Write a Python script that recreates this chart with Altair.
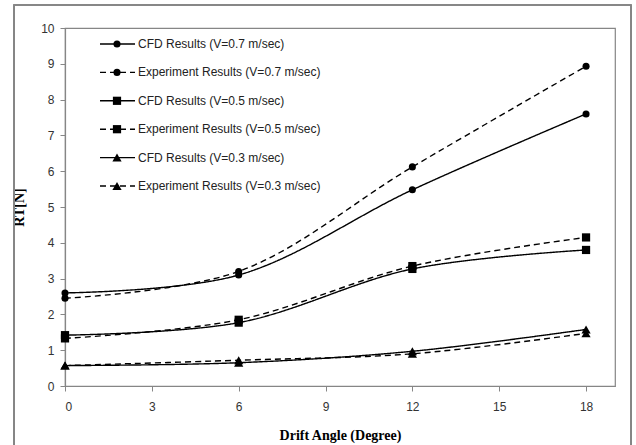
import altair as alt
import pandas as pd

angles = [0, 6, 12, 18]
cfd_07 = [2.60, 3.10, 5.48, 7.60]
exp_07 = [2.45, 3.20, 6.12, 8.93]
cfd_05 = [1.42, 1.77, 3.27, 3.80]
exp_05 = [1.33, 1.85, 3.35, 4.15]
cfd_03 = [0.57, 0.65, 0.97, 1.58]
exp_03 = [0.57, 0.72, 0.90, 1.47]
y_ticks = [0, 1, 2, 3, 4, 5, 6, 7, 8, 9, 10]
x_ticks = [0, 3, 6, 9, 12, 15, 18]

series_labels = [
    "CFD Results  (V=0.7 m/sec)",
    "Experiment Results (V=0.7 m/sec)",
    "CFD Results (V=0.5 m/sec)",
    "Experiment Results  (V=0.5 m/sec)",
    "CFD Results (V=0.3 m/sec)",
    "Experiment Results (V=0.3 m/sec)",
]
series_values = [cfd_07, exp_07, cfd_05, exp_05, cfd_03, exp_03]
series_kind = ["CFD", "Exp", "CFD", "Exp", "CFD", "Exp"]
series_shape = ["circle", "circle", "square", "square", "triangle-up", "triangle-up"]

rows = []
for i, (lab, vals, kind, shp) in enumerate(zip(series_labels, series_values, series_kind, series_shape)):
    for a, v in zip(angles, vals):
        rows.append({"series": lab, "idx": i, "angle": a, "rt": v, "kind": kind, "shape": shp})
df = pd.DataFrame(rows)

leg = pd.DataFrame({"label": series_labels, "idx": list(range(6)), "kind": series_kind, "shape": series_shape})

FONT = "Liberation Sans"
AX = "#868686"

xs = alt.X("angle:Q", scale=alt.Scale(domain=[0, 19], nice=False),
           axis=alt.Axis(values=x_ticks, title="Drift Angle (Degree)",
                         titleFont="Liberation Serif", titleFontWeight="bold", titleFontSize=14,
                         titleColor="black", titlePadding=16, labelPadding=10))
ys = alt.Y("rt:Q", scale=alt.Scale(domain=[0, 10], nice=False),
           axis=alt.Axis(values=y_ticks, labelOverlap=False, title="RT[N]",
                         titleFont="Liberation Serif", titleFontWeight="bold", titleFontSize=14,
                         titleColor="black", titlePadding=14, labelPadding=6))

dash_scale = alt.Scale(domain=["CFD", "Exp"], range=[[1, 0], [6, 4]])
shape_scale = alt.Scale(domain=["circle", "square", "triangle-up"], range=["circle", "square", "triangle-up"])
size_scale = alt.Scale(domain=["circle", "square", "triangle-up"], range=[50, 85, 60])

lines = alt.Chart(df).mark_line(color="black", strokeWidth=1.4, interpolate="catmull-rom").encode(
    x=xs, y=ys, detail="series:N",
    strokeDash=alt.StrokeDash("kind:N", scale=dash_scale, legend=None),
)
points = alt.Chart(df).mark_point(filled=True, color="black", opacity=1).encode(
    x=xs, y=ys,
    shape=alt.Shape("shape:N", scale=shape_scale, legend=None),
    size=alt.Size("shape:N", scale=size_scale, legend=None),
)
main = alt.layer(lines, points)

ly = alt.Y("idx:Q", scale=alt.Scale(domain=[0, 5], range=[16, 158]), axis=None)
leg_lines = alt.Chart(leg).mark_rule(color="black", strokeWidth=1.4).encode(
    y=ly, x=alt.value(35), x2=alt.value(70),
    strokeDash=alt.StrokeDash("kind:N", scale=dash_scale, legend=None),
)
leg_pts = alt.Chart(leg).mark_point(filled=True, color="black", opacity=1).encode(
    y=ly, x=alt.value(52),
    shape=alt.Shape("shape:N", scale=shape_scale, legend=None),
    size=alt.Size("shape:N", scale=size_scale, legend=None),
)
leg_txt = alt.Chart(leg).mark_text(align="left", baseline="middle", font=FONT, fontSize=12, color="#222222").encode(
    y=ly, x=alt.value(73), text="label:N",
)
legend = alt.layer(leg_lines, leg_pts, leg_txt)

frame = alt.Chart(leg).mark_rect(fill=None, stroke=AX, strokeWidth=1.2).encode(
    x=alt.value(-51), x2=alt.value(566), y=alt.value(-23), y2=alt.value(430),
)

chart = alt.layer(frame, main, legend).resolve_scale(
    y="independent"
).properties(
    width=550, height=358,
    autosize=alt.AutoSizeParams(type="none"),
    padding={"left": 65, "top": 28, "right": 21, "bottom": 59},
    background="white",
).configure_view(
    stroke=AX, strokeWidth=1.2,
).configure_axis(
    grid=False, domainColor=AX, tickColor=AX, tickSize=5, labelFont=FONT, labelFontSize=12,
    labelColor="#333333", domainWidth=1.2,
)

chart.save("out.html", embed_options={"renderer": "svg", "actions": False})
